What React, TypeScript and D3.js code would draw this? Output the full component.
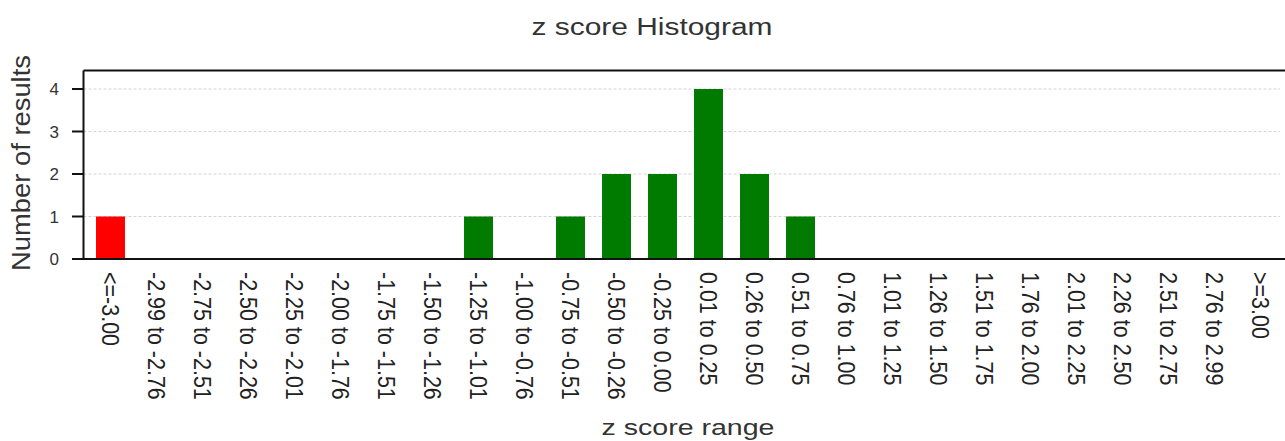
import * as d3 from "d3";

const categories = [
  "<=-3.00",
  "-2.99 to -2.76",
  "-2.75 to -2.51",
  "-2.50 to -2.26",
  "-2.25 to -2.01",
  "-2.00 to -1.76",
  "-1.75 to -1.51",
  "-1.50 to -1.26",
  "-1.25 to -1.01",
  "-1.00 to -0.76",
  "-0.75 to -0.51",
  "-0.50 to -0.26",
  "-0.25 to 0.00",
  "0.01 to 0.25",
  "0.26 to 0.50",
  "0.51 to 0.75",
  "0.76 to 1.00",
  "1.01 to 1.25",
  "1.26 to 1.50",
  "1.51 to 1.75",
  "1.76 to 2.00",
  "2.01 to 2.25",
  "2.26 to 2.50",
  "2.51 to 2.75",
  "2.76 to 2.99",
  ">=3.00",
];

const counts = [1, 0, 0, 0, 0, 0, 0, 0, 1, 0, 1, 2, 2, 4, 2, 1, 0, 0, 0, 0, 0, 0, 0, 0, 0, 0];

// the out-of-range bin is flagged red, the rest green
const outlierBins = new Set(["<=-3.00", ">=3.00"]);

const yTicks = [0, 1, 2, 3, 4];

const W = 1285;
const H = 441;
const FONT = '"Liberation Sans", Arial, Helvetica, sans-serif';

export default function App() {
  const left = 83.5;
  const top = 70.5;
  const bottom = 259;

  const x = d3
    .scaleBand<string>()
    .domain(categories)
    .range([87.5, 1283.5])
    .paddingInner(0.37)
    .paddingOuter(0.185);

  const y = d3.scaleLinear().domain([0, 4.435]).range([bottom, top]);

  const bw = x.bandwidth();

  return (
    <svg
      width={W}
      height={H}
      style={{ position: "absolute", left: 0, top: 0, display: "block", background: "#fff" }}
      fontFamily={FONT}
    >
      {/* title */}
      <text
        x={652}
        y={35}
        textAnchor="middle"
        fontSize={23}
        fill="#333"
        textLength={241}
        lengthAdjust="spacingAndGlyphs"
      >
        z score Histogram
      </text>

      {/* gridlines */}
      {yTicks
        .filter((t) => t > 0)
        .map((t) => (
          <line
            key={"g" + t}
            x1={left}
            x2={1280}
            y1={y(t)}
            y2={y(t)}
            stroke="#d4d4d4"
            strokeWidth={1}
            strokeDasharray="3,2"
          />
        ))}

      {/* bars */}
      {categories.map((c, i) =>
        counts[i] > 0 ? (
          <rect
            key={"b" + c}
            x={x(c)}
            y={y(counts[i])}
            width={bw}
            height={bottom - y(counts[i])}
            fill={outlierBins.has(c) ? "#ff0000" : "#007b00"}
          />
        ) : null
      )}

      {/* frame */}
      <line x1={left} x2={W} y1={top} y2={top} stroke="#111" strokeWidth={2} />
      <line x1={left} x2={left} y1={top} y2={bottom} stroke="#111" strokeWidth={2} />
      <line x1={72} x2={W} y1={bottom} y2={bottom} stroke="#111" strokeWidth={2} />

      {/* y axis ticks */}
      {yTicks.map((t) => (
        <g key={"t" + t}>
          <line x1={72} x2={left} y1={y(t)} y2={y(t)} stroke="#111" strokeWidth={2} />
          <text
            x={59}
            y={y(t)}
            dy="0.36em"
            textAnchor="end"
            fontSize={17}
            fill="#333"
          >
            {t}
          </text>
        </g>
      ))}

      {/* y axis title */}
      <text
        transform={`translate(30,163) rotate(-90)`}
        textAnchor="middle"
        fontSize={26}
        fill="#333"
        textLength={216}
        lengthAdjust="spacingAndGlyphs"
      >
        Number of results
      </text>

      {/* category labels */}
      {categories.map((c) => (
        <text
          key={"l" + c}
          transform={`translate(${x(c)! + bw / 2},272) rotate(90) scale(1,1.08)`}
          dy="0.36em"
          fontSize={21.5}
          fill="#222"
        >
          {c}
        </text>
      ))}

      {/* x axis title */}
      <text
        x={688}
        y={435}
        textAnchor="middle"
        fontSize={22.5}
        fill="#333"
        textLength={173}
        lengthAdjust="spacingAndGlyphs"
      >
        z score range
      </text>
    </svg>
  );
}
